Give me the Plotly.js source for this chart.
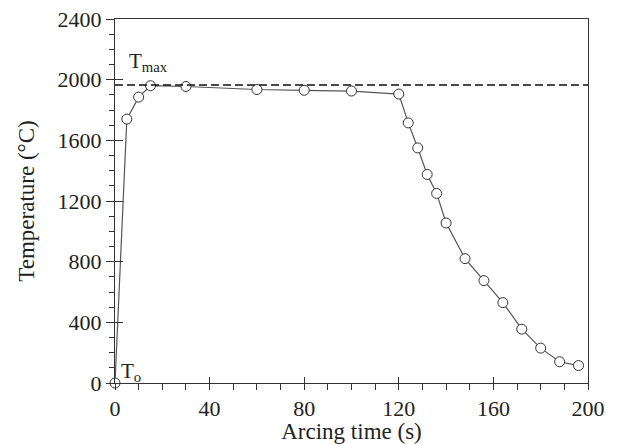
<!DOCTYPE html>
<html>
<head>
<meta charset="utf-8">
<script src="https://cdn.plot.ly/plotly-3.0.1.min.js"></script>
<style>html,body{margin:0;padding:0;background:#fff;}#chart{width:620px;height:444px;}</style>
</head>
<body>
<div id="chart"></div>
<script>
// Data
const arcingTime = [0, 5, 10, 15, 30, 60, 80, 100, 120, 124, 128, 132, 136, 140, 148, 156, 164, 172, 180, 188, 196];
const temperature = [0, 1740, 1885, 1960, 1955, 1935, 1930, 1925, 1905, 1715, 1550, 1375, 1250, 1055, 820, 675, 530, 355, 230, 140, 115];
const tMax = 1965;
const xTicks = [0, 40, 80, 120, 160, 200];
const yTicks = [0, 400, 800, 1200, 1600, 2000, 2400];
const xTitle = 'Arcing time (s)';
const yTitle = 'Temperature (°C)';

const FONT = 'Liberation Serif';

const traces = [
  {
    x: arcingTime, y: temperature, type: 'scatter', mode: 'lines+markers',
    line: {color: '#555555', width: 1.2},
    marker: {symbol: 'circle', size: 10, color: '#ffffff', line: {color: '#333333', width: 1}},
    cliponaxis: false, showlegend: false, hoverinfo: 'x+y'
  },
  { x: [null], y: [null], xaxis: 'x2', yaxis: 'y2', type: 'scatter', mode: 'markers', showlegend: false }
];

const layout = {
  width: 620, height: 444,
  margin: {l: 115, r: 32, t: 19, b: 61},
  paper_bgcolor: '#ffffff', plot_bgcolor: '#ffffff',
  font: {family: FONT, size: 22, color: '#222222'},
  showlegend: false,
  xaxis: {
    range: [0, 200], tickvals: xTicks, ticktext: xTicks.map(String),
    ticks: 'outside', ticklen: 6, tickcolor: '#333', tickwidth: 1,
    minor: {dtick: 10, tick0: 0, ticks: 'outside', ticklen: 6, tickcolor: '#333', tickwidth: 1},
    showline: true, linecolor: '#333', linewidth: 1, mirror: true,
    showgrid: false, zeroline: false,
    tickfont: {family: FONT, size: 22, color: '#222'},
    title: {text: xTitle, font: {family: FONT, size: 23, color: '#222'}, standoff: 2}
  },
  yaxis: {
    range: [0, 2400], tickvals: yTicks, ticktext: yTicks.map(String),
    ticks: 'outside', ticklen: 8, tickcolor: '#333', tickwidth: 1,
    minor: {dtick: 100, tick0: 0, ticks: 'outside', ticklen: 5, tickcolor: '#333', tickwidth: 1},
    showline: true, linecolor: '#333', linewidth: 1, mirror: true,
    showgrid: false, zeroline: false,
    tickfont: {family: FONT, size: 22, color: '#222'},
    title: {text: yTitle, font: {family: FONT, size: 23, color: '#222'}, standoff: 16}
  },
  xaxis2: {
    overlaying: 'x', anchor: 'y', side: 'bottom', range: [0, 200],
    tickvals: xTicks, showticklabels: false, ticks: 'inside', ticklen: 6,
    tickcolor: '#333', tickwidth: 1, showgrid: false, zeroline: false, showline: false
  },
  yaxis2: {
    overlaying: 'y', anchor: 'x', side: 'left', range: [0, 2400],
    tickvals: yTicks, showticklabels: false, ticks: 'inside', ticklen: 8,
    tickcolor: '#333', tickwidth: 1, showgrid: false, zeroline: false, showline: false
  },
  shapes: [
    {type: 'line', xref: 'paper', yref: 'y', x0: 0, x1: 1, y0: tMax, y1: tMax,
     line: {color: '#111', width: 1.6, dash: '8px,4px'}}
  ],
  annotations: [
    {x: 5, y: 2020, xref: 'x', yref: 'y', xanchor: 'left', yanchor: 'bottom', showarrow: false,
     text: 'T<sub>max</sub>', font: {family: FONT, size: 21, color: '#222'}},
    {x: 1.5, y: 0, yshift: -4, xref: 'x', yref: 'y', xanchor: 'left', yanchor: 'bottom', showarrow: false,
     text: 'T<sub>o</sub>', font: {family: FONT, size: 21, color: '#222'}}
  ]
};

Plotly.newPlot('chart', traces, layout, {displayModeBar: false, staticPlot: true});
</script>
</body>
</html>
